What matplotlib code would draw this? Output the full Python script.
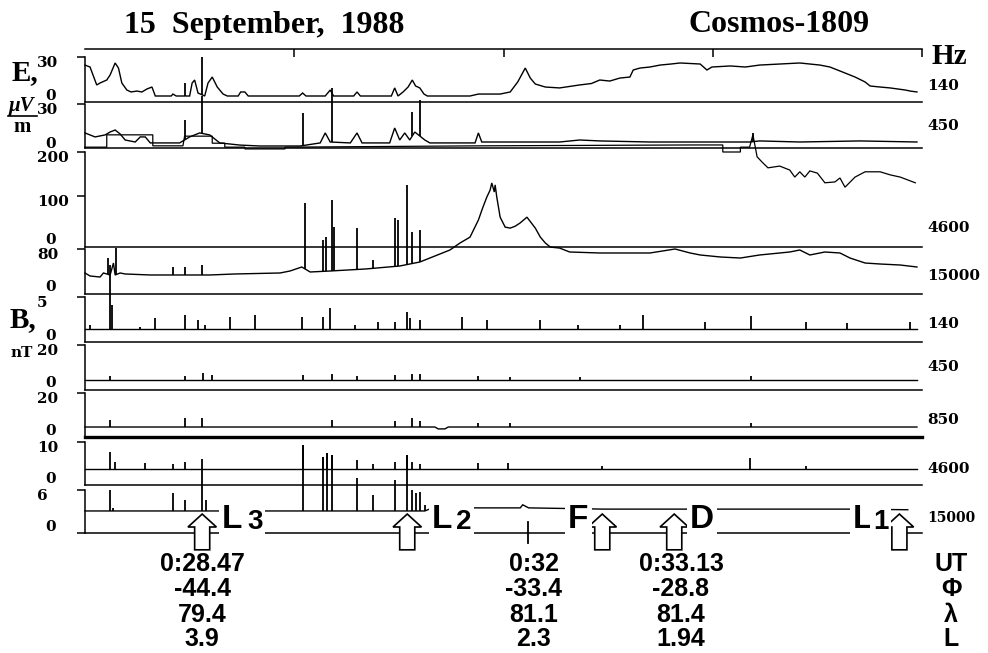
import numpy as np
import matplotlib
matplotlib.use("Agg")
import matplotlib.pyplot as plt
import matplotlib.transforms as mtransforms
from matplotlib.patches import FancyArrow
from matplotlib.lines import Line2D

# time axis of every channel: 0..100 = position along the plotted pass (%)

# ---- E field, uV/m : (t, value) break points ----
e140 = [(0, 23.8), (0.6, 22.3), (1.4, 8.5), (1.8, 10), (2.6, 12.3), (3.0, 16.2), (3.6, 25.4),
        (4.0, 21.5), (4.4, 10), (5.0, 4.6), (5.5, 3.1), (6.2, 3.8), (6.8, 3.1), (7.4, 5.4),
        (8.0, 6.9), (8.4, 0), (10.3, 0), (10.5, 1.5), (10.9, 0), (12.5, 0), (12.8, 10),
        (13.1, 12.3), (13.5, 2.3), (14.3, 0), (14.7, 10), (15.2, 14.6), (15.8, 6.9), (16.5, 1.5),
        (17.0, 0), (18.3, 0), (18.6, 3.1), (19.1, 3.1), (19.5, 0), (25.6, 0), (26.0, 2.3),
        (26.4, 0), (28.7, 0), (29.3, 4.6), (29.7, 0), (32.1, 0), (32.5, 3.1), (32.9, 0),
        (36.6, 0), (37.0, 6.2), (37.4, 0), (38.0, 3.1), (38.6, 6.9), (39.1, 12.3), (39.5, 7.7),
        (40.0, 6.2), (40.5, 1.5), (40.9, 0), (46.0, 0), (47.0, 1.5), (49.6, 1.5), (50.8, 3.1),
        (51.7, 10.8), (52.6, 21.5), (53.2, 13.8), (53.8, 9.2), (55.0, 6.9), (56.7, 6.2),
        (59.1, 8.5), (60.5, 9.6), (61.5, 12.3), (62.7, 11.5), (63.9, 13.8), (65.1, 14.6),
        (65.5, 20), (66.3, 21.5), (67.5, 22.3), (68.7, 23.8), (70.0, 24.6), (71.1, 25.4),
        (73.5, 24.6), (74.3, 20), (74.9, 22.3), (77.1, 23.1), (78.9, 22.3), (80.6, 23.8),
        (83.0, 24.6), (85.4, 25.4), (87.8, 23.8), (89.0, 22.3), (90.8, 17.7), (92.0, 14.6),
        (93.2, 10.8), (93.8, 7.7), (95.0, 6.9), (96.2, 6.2), (97.1, 5.4), (98.0, 4.6),
        (98.6, 3.8), (99.4, 3.1)]
e140_spikes = [(11.9, 10), (14.0, 30)]

e450 = [(0, 8.3), (1.2, 5.3), (2.4, 6.8), (3.0, 9), (3.6, 10.5), (4.2, 7.5), (4.8, 3), (6.0, 1.5),
        (6.6, 5.3), (7.2, 5.3), (7.8, 0.8), (11.3, 0.8), (12.5, 5.3), (13.7, 8.3), (14.9, 6.8),
        (16.1, 0.8), (18.5, -0.8), (20.9, -1.5), (25.7, -1.5), (28.1, 0.8), (28.7, 8.3),
        (29.3, 1.5), (31.7, 0.8), (32.5, 8.3), (33.1, 0.8), (36.4, 0.8), (37.0, 12), (37.6, 3),
        (38.2, 8.3), (38.8, 3), (39.4, 9), (40.6, 3), (41.2, 0.8), (46.6, 0.8), (47.0, 8.3),
        (47.4, 1.5), (56.7, 1.5), (59.1, 3), (61.5, 2.3), (67.5, 1.5), (79.4, 1.5), (80.6, 2.3),
        (85.4, 1.5), (92.6, 2.3), (99.4, 1.5)]
e450_spikes = [(12.0, 18), (14.0, 36), (26.0, 23), (29.5, 42), (39.1, 24), (40.0, 33), (79.8, 8.3)]

e4600 = [(0, 211), (2.6, 211), (2.6, 239), (8.1, 239), (8.1, 214), (11.7, 214), (11.9, 236),
         (15.2, 236), (15.2, 220), (16.7, 220), (16.7, 211), (19.1, 211), (19.1, 207), (23.9, 207),
         (23.9, 211), (47.2, 214), (72.6, 216), (76.2, 216), (76.2, 200), (78.3, 200), (78.3, 211),
         (79.4, 211), (79.8, 239), (80.3, 189), (80.9, 177), (81.6, 164), (83.0, 168), (84.2, 159),
         (84.8, 143), (85.4, 155), (86.0, 143), (86.6, 157), (87.5, 152), (88.4, 130), (89.6, 132),
         (90.2, 141), (90.8, 120), (92.0, 143), (93.2, 155), (95.0, 155), (96.2, 148), (97.4, 143),
         (99.2, 130)]

e15000 = [(0, 29.5), (0.6, 23.2), (1.8, 21), (2.2, 29.5), (3.0, 25.3), (3.4, 50.5), (3.6, 25.3),
          (4.2, 29.5), (4.8, 27.4), (7.8, 25.3), (14.9, 25.3), (17.9, 27.4), (23.3, 29.5),
          (24.5, 33.7), (25.9, 42.1), (26.9, 31.6), (29.3, 33.7), (33.5, 37.9), (37.6, 44.2),
          (40.0, 52.6), (41.2, 61), (43.6, 77.9), (44.8, 92.6), (46.0, 105), (47.0, 141),
          (47.5, 166), (48.0, 189), (48.4, 204), (48.6, 219), (48.9, 200), (49.0, 215), (49.2, 189),
          (49.6, 147), (50.2, 126), (50.8, 124), (51.4, 128), (52.0, 135), (52.8, 147), (53.8, 124),
          (54.4, 105), (55.0, 92.6), (55.6, 84), (56.7, 82), (57.9, 73.7), (61.5, 71.6),
          (67.5, 71.6), (70.5, 80), (72.3, 71.6), (73.5, 67.4), (75.9, 63.2), (78.3, 61),
          (80.6, 67.4), (84.2, 73.7), (85.4, 77.9), (86.6, 67.4), (88.4, 73.7), (90.2, 71.6),
          (91.4, 61), (93.2, 50.5), (95.0, 48.4), (97.4, 46.3), (99.4, 42.1)]
e15000_spikes = [(2.7, 61), (3.7, 82), (10.5, 42), (11.9, 42), (14.0, 46), (26.3, 177), (28.4, 99),
                 (28.8, 105), (29.5, 183), (29.7, 126), (32.5, 124), (34.4, 57), (37.0, 145),
                 (37.4, 141), (38.5, 215), (39.1, 116), (40.0, 120)]

# ---- B field, nT ----
b140 = [(0, 0.9), (99.4, 0.9)]
b140_spikes = [(0.6, 1.4), (3.0, 9.1), (3.2, 4.0), (6.6, 1.2), (8.4, 2.3), (11.9, 2.7), (13.5, 2.1),
               (14.3, 1.4), (17.3, 2.4), (20.3, 2.7), (25.9, 2.4), (28.4, 2.4), (29.3, 3.6),
               (32.3, 1.4), (35.0, 1.8), (37.0, 1.8), (38.5, 3.1), (38.8, 2.3), (40.0, 2.1),
               (45.0, 2.4), (48.0, 2.1), (54.4, 2.1), (58.9, 1.4), (63.9, 1.4), (66.7, 2.7),
               (74.1, 1.8), (79.6, 2.6), (86.1, 1.8), (91.0, 1.7), (98.6, 1.8)]

b450 = [(0, 1.6), (99.4, 1.6)]
b450_spikes = [(3.0, 3.7), (11.9, 3.7), (14.1, 5.3), (15.2, 4.2), (26.0, 4.2), (29.5, 4.7),
               (32.5, 3.7), (37.0, 4.2), (39.1, 4.7), (40.0, 4.7), (47.0, 3.7), (50.8, 3.2),
               (59.1, 3.2), (79.6, 3.7)]

b850 = [(0, 2.1), (41.8, 2.1), (42.2, 1.1), (43.0, 1.1), (43.4, 2.1), (99.4, 2.1)]
b850_spikes = [(3.0, 5.8), (11.9, 6.8), (14.0, 6.8), (29.5, 5.8), (37.0, 5.3), (39.1, 6.8),
               (40.0, 5.3), (47.0, 4.2), (50.8, 4.2), (79.6, 4.2)]

b4600 = [(0, 2.7), (99.4, 2.7)]
b4600_spikes = [(3.0, 7.3), (3.6, 4.6), (7.2, 4.3), (10.5, 4.1), (11.9, 4.6), (14.0, 5.4),
                (26.0, 9.2), (28.4, 5.9), (28.9, 7.0), (29.5, 6.5), (32.5, 5.1), (34.4, 4.1),
                (37.0, 4.6), (38.5, 6.5), (39.1, 4.6), (40.0, 4.1), (47.0, 4.3), (50.5, 4.3),
                (61.8, 3.5), (79.4, 5.7), (86.1, 3.5)]

b15000 = [(0, 2.6), (40.6, 2.6), (41.5, 3.1), (52.0, 3.1), (52.3, 3.6), (53.0, 3.1), (62.0, 2.9),
          (91.2, 2.9), (98.3, 2.8)]
b15000_spikes = [(3.0, 6.0), (3.3, 3.1), (10.5, 5.5), (11.9, 4.4), (14.0, 9.4), (14.4, 4.4),
                 (26.0, 13.3), (28.4, 11.3), (28.9, 12.0), (29.5, 11.7), (32.5, 7.9), (34.4, 5.2),
                 (37.0, 7.6), (38.5, 11.7), (39.1, 6.0), (39.5, 5.5), (40.0, 5.7), (40.6, 3.6)]

# ---- events along the pass ----
event_names = ["L", "L", "F", "D", "L"]
event_idx = ["3", "2", "", "", "1"]
event_t = [14.0, 38.5, 61.8, 70.4, 97.3]
tick_032 = 52.9
col_t = [14.0, 53.6, 71.2]
ut = ["0:28.47", "0:32", "0:33.13"]
phi = ["-44.4", "-33.4", "-28.8"]
lam = ["79.4", "81.1", "81.4"]
lsh = ["3.9", "2.3", "1.94"]
row_names = ["UT", "Φ", "λ", "L"]

freq_labels = ["140", "450", "4600", "15000", "140", "450", "850", "4600", "15000"]

# ---------------- layout (pixels of the 988x653 picture) ----------------
W, H = 988, 653
X0, X1 = 85, 922


def fx(x):
    return x / W


def fy(y):
    return 1 - y / H


fig = plt.figure(figsize=(W / 100, H / 100), dpi=100)
fig.patch.set_facecolor("white")

tick_font = dict(family="DejaVu Serif", weight="bold", size=11)


def panel(top, bottom, zero, topval, ticks=None, bottom_lw=1.1):
    ppu = (zero - top) / topval
    ax = fig.add_axes([fx(X0), fy(bottom), (X1 - X0) / W, (bottom - top) / H])
    ax.set_xlim(0, 100)
    ax.set_ylim(-(bottom - zero) / ppu, topval)
    ax.patch.set_visible(False)
    ax.spines["top"].set_visible(False)
    ax.spines["right"].set_visible(False)
    ax.spines["left"].set_linewidth(1.1)
    ax.spines["bottom"].set_linewidth(bottom_lw)
    ax.set_xticks([])
    ax.set_yticks(ticks if ticks else [topval])
    ax.tick_params(axis="y", direction="out", length=5.8, width=1.1, labelleft=False)
    for v in ([0] + (ticks if ticks else [topval])):
        if v == 0:
            ax.annotate("0", xy=(51, 0), xycoords=("figure pixels", "data"),
                        ha="center", va="center", annotation_clip=False, **tick_font)
        else:
            ax.annotate(str(v), xy=(37, v), xycoords=("figure pixels", "data"),
                        xytext=(0, -6), textcoords="offset pixels",
                        ha="left", va="center", annotation_clip=False, **tick_font)
    return ax


def trace(ax, pts, spikes=None, lw=1.0):
    t = [p[0] for p in pts]
    v = [p[1] for p in pts]
    ax.plot(t, v, color="black", lw=lw, clip_on=False, solid_joinstyle="miter")
    if spikes:
        st = [s[0] for s in spikes]
        sv = [s[1] for s in spikes]
        ax.vlines(st, np.interp(st, t, v), sv, color="black", lw=1.3, clip_on=False)


# top time scale
ax_t = fig.add_axes([fx(X0), fy(49), (X1 - X0) / W, 0.0001])
ax_t.set_xlim(0, 100)
for s in ("left", "right", "bottom"):
    ax_t.spines[s].set_visible(False)
ax_t.spines["top"].set_linewidth(1.1)
ax_t.set_yticks([])
ax_t.xaxis.tick_top()
ax_t.set_xticks([25, 50, 75, 100])
ax_t.tick_params(axis="x", direction="in", length=5.8, width=1.1, labeltop=False)

p1 = panel(57, 102, 96, 30)
trace(p1, e140, e140_spikes)
p2 = panel(104, 148, 144, 30)
trace(p2, e450, e450_spikes)
p3 = panel(152, 247, 240, 200, ticks=[100, 200])
trace(p3, e4600, lw=0.9)
p4 = panel(249, 294, 287, 80)
trace(p4, e15000, e15000_spikes)
p5 = panel(297, 342, 336, 5)
trace(p5, b140, b140_spikes)
p6 = panel(345, 390, 383, 20)
trace(p6, b450, b450_spikes)
p7 = panel(393, 437, 431, 20, bottom_lw=2.4)
trace(p7, b850, b850_spikes)
p8 = panel(442, 485, 479, 10)
trace(p8, b4600, b4600_spikes)
p9 = panel(490, 533, 527, 6)
trace(p9, b15000, b15000_spikes)
y9 = p9.get_ylim()[0]
p9.set_yticks([y9, 6])

# event arrows and the 0:32 mark
for t in event_t:
    p9.add_patch(FancyArrow(t, -3.7, 0, 5.8, width=1.8, head_width=3.4, head_length=2.1,
                            length_includes_head=True, facecolor="white", edgecolor="black",
                            lw=1.2, clip_on=False, zorder=6))
p9.axvline(tick_032, ymin=-0.23, ymax=0.26, color="black", lw=1.3, clip_on=False)

# event letters
lab_x = [222, 432, 568, 690, 853]
dig_x = [247, 456, None, None, 873]
for name, idx, x, dx in zip(event_names, event_idx, lab_x, dig_x):
    fig.text(fx(x), fy(528), name, ha="left", va="baseline", family="Liberation Sans",
             weight="bold", size=24, zorder=5,
             bbox=dict(boxstyle="square,pad=0.1", fc="white", ec="none"))
    if idx:
        fig.text(fx(dx), fy(529), idx, ha="left", va="baseline", family="Liberation Sans",
                 weight="bold", size=20, zorder=5,
                 bbox=dict(boxstyle="square,pad=0.1", fc="white", ec="none"))

# coordinate table
num_font = dict(family="Liberation Sans", weight="bold", size=18)
blend = mtransforms.blended_transform_factory(p9.transData, fig.transFigure)
row_y = [564, 589, 615, 639]
for col, t in enumerate(col_t):
    for row, vals in enumerate([ut, phi, lam, lsh]):
        fig.text(t, fy(row_y[row]), vals[col], transform=blend, ha="center", va="center",
                 **num_font)
for row, name in enumerate(row_names):
    fig.text(fx(951), fy(row_y[row]), name, ha="center", va="center", **num_font)

# titles and axis names
title_font = dict(family="Liberation Serif", weight="bold")
fig.text(fx(264), fy(25), "15  September,  1988", ha="center", va="center", size=23, **title_font)
fig.text(fx(779), fy(25), "Cosmos-1809", ha="center", va="center", size=23, **title_font)
fig.text(fx(949), fy(56), "Hz", ha="center", va="center", size=21, **title_font)
fig.text(fx(12), fy(80), "E,", ha="left", va="baseline", size=21, **title_font)
fig.text(fx(22), fy(111), "μV", ha="center", va="baseline", size=15, style="italic", **title_font)
fig.add_artist(Line2D([fx(8), fx(37)], [fy(116), fy(116)], color="black", lw=1.2,
                      transform=fig.transFigure))
fig.text(fx(22), fy(132), "m", ha="center", va="baseline", size=15, **title_font)
fig.text(fx(10), fy(327), "B,", ha="left", va="baseline", size=21, **title_font)
fig.text(fx(10), fy(357), "nT", ha="left", va="baseline", **tick_font)

# channel frequencies on the right
freq_y = [86, 126, 228, 276, 324, 367, 420, 469, 518]
freq_size = [11, 11, 11, 11, 11, 11, 11, 11, 10]
for lab, y, sz in zip(freq_labels, freq_y, freq_size):
    fig.text(fx(927), fy(y), lab, ha="left", va="center", family="DejaVu Serif",
             weight="bold", size=sz)

fig.savefig("out.png", dpi=100, facecolor="white")
